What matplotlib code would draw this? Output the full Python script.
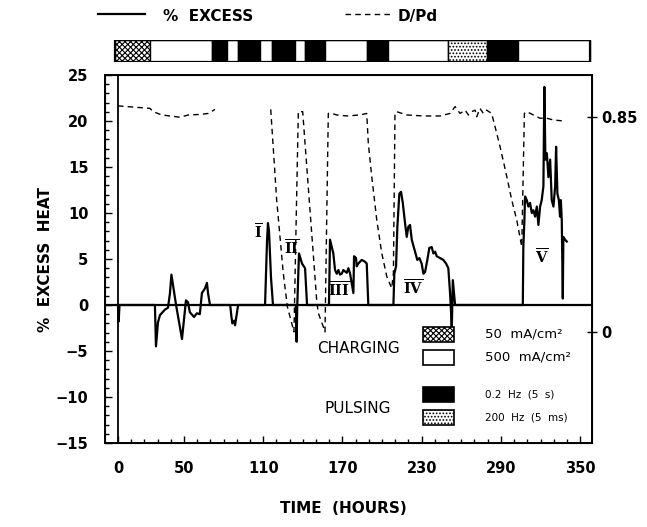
import numpy as np
import matplotlib.pyplot as plt
from matplotlib.patches import Rectangle
from matplotlib.lines import Line2D

plt.rcParams['font.family'] = 'DejaVu Sans'
plt.rcParams['hatch.linewidth'] = 0.8
plt.rcParams['mathtext.fontset'] = 'dejavuserif'

# % excess heat (solid line)
hours = [0, 0.5, 1.2, 28, 28.8, 30.3, 31.8, 35.6, 37.9, 39.4, 40.5, 44, 48.5, 51.5, 53,
         54.5, 57.6, 59.8, 62, 63.6, 65.9, 67.4, 68.2, 69.7, 85, 85.8, 86.6, 88, 88.7,
         90, 91, 111.4, 112.9, 113.6, 114.4, 115.9, 117.4, 134.8, 135.3, 135.8, 137.1,
         139.4, 141.7, 143.2, 159.8, 160.6, 163.1, 164.4, 165.7, 166.9, 168.2, 169.5,
         170.7, 173.3, 174.5, 175.8, 178.3, 178.8, 180.3, 180.8, 182, 184.6, 187.1, 188.4,
         189.6, 208.6, 209.3, 210.6, 211.6, 213.1, 214.4, 215.7, 217.4, 218.7, 219.9,
         221.2, 222.5, 225, 226.7, 228.3, 230, 231.3, 232.6, 234.3, 235.8, 237.6, 238.9,
         240.2, 241.4, 243.9, 246.4, 248.5, 250.2, 251.5, 252.3, 252.8, 253.6, 254.5,
         255.3, 306.6, 307, 307.8, 308.3, 309.6, 310.8, 312.1, 313.4, 314.6, 315.9, 317.2,
         318.4, 319.7, 320.9, 322.2, 322.9, 323.7, 324.8, 326, 327.3, 328.5, 329.8, 331.1,
         331.8, 332.8, 333.9, 334.8, 335.4, 336.1, 336.9, 337.3, 338.6, 339.9]
excess = [0, -1.8, 0, 0, -4.5, -1.9, -1.1, -0.5, -0.3, 1.3, 3.3, 0, -3.7, 0.5, 0.3,
          -0.8, -1.3, -0.9, -1.0, 1.3, 1.8, 2.4, 1.3, 0, 0, -1.1, -2.0, -1.7, -2.2,
          -1.0, 0, 0, 7.0, 8.9, 8.0, 3.0, 0, 0, -4.0, 0, 5.6,
          4.5, 4.0, 0, 0, 7.1, 5.6, 3.8, 3.4, 3.8, 3.3, 3.4,
          3.8, 3.5, 4.0, 3.4, 1.3, 5.3, 5.1, 4.2, 4.5, 4.9, 4.7, 4.5,
          0, 0, 3.4, 4.2, 8.5, 12.1, 12.3, 11.1, 8.9, 7.4, 8.5,
          8.7, 7.1, 5.8, 4.9, 5.1, 4.5, 3.4, 3.6, 4.9, 6.2, 6.3, 5.6,
          5.8, 5.3, 5.1, 4.9, 4.5, 4.0, 1.3, -0.9, -2.7, 2.7, 1.3,
          0, 0, 6.3, 9.2, 11.8, 11.4, 10.7, 11.1, 10.0, 10.3, 9.6, 10.7,
          8.7, 10.7, 11.4, 12.9, 23.7, 15.8, 16.5, 13.9, 15.8, 11.4, 10.7, 12.9,
          17.2, 12.1, 11.4, 9.6, 11.4, 9.2, 0.7, 7.4, 7.1, 6.9]

# D/Pd loading (dashed line, right axis)
dpd_hours = [0, 24.2, 26.7, 33.1, 39.4, 47, 53.3, 62.1, 68.4, 73.5, np.nan,
             115.7, 120.2, 125.2, 128.3, 131.6, 133.3, 136.6, 139.9, 150.5, 151.7,
             155.5, 156.8, 159.3, 161.9, 165.7, 173.3, 183.3, 188.4, 189.6, 192.2,
             196, 199.8, 203.6, 207.3, 208.6, 209.8, 211.1, 218.7, 231.3, 243.9, 251.5,
             255.3, 259.1, 262.9, 265.4, 267.9, 270.5, 271.7, 274.2, 276.7, 279.2, 283,
             285.6, 289.4, 294.5, 298.2, 302, 305.8, 307.8, 309.6, 314.6, 319.7, 324.8,
             329.8, 336.1]
dpd = [0.894, 0.884, 0.871, 0.858, 0.854, 0.849, 0.858, 0.86, 0.864, 0.88, np.nan,
       0.88, 0.522, 0.232, 0.1, 0.034, 0.0, 0.871, 0.871, 0.126, 0.075,
       0.021, 0.0, 0.864, 0.864, 0.858, 0.854, 0.858, 0.864, 0.746, 0.614,
       0.443, 0.311, 0.219, 0.173, 0.232, 0.864, 0.871, 0.858, 0.854, 0.854, 0.864,
       0.891, 0.864, 0.877, 0.858, 0.871, 0.877, 0.851, 0.884, 0.864, 0.877, 0.864,
       0.811, 0.732, 0.614, 0.522, 0.443, 0.337, 0.864, 0.871, 0.858, 0.845, 0.845,
       0.838, 0.835]

# current / pulsing schedule bar
seg_start = [-2.3, 24.2, 71.2, 82.6, 90.9, 107.6, 116.7, 134.1, 141.7, 156.8, 188.6,
             204.5, 250, 279.5, 303]
seg_end = [24.2, 71.2, 82.6, 90.9, 107.6, 116.7, 134.1, 141.7, 156.8, 188.6, 204.5,
           250, 279.5, 303, 357.6]
seg_kind = ['cross', 'white', 'black', 'white', 'black', 'white', 'black', 'white',
            'black', 'white', 'black', 'white', 'dots', 'black', 'white']

xticks = [0, 50, 110, 170, 230, 290, 350]
numerals = ['I', 'II', 'III', 'IV', 'V']
num_x = [106, 131.6, 167.6, 223.7, 320.9]
num_y = [7.9, 6.2, 1.6, 1.8, 5.2]

styles = {'cross': dict(facecolor='white', hatch='xxxxxx'),
          'white': dict(facecolor='white', hatch=None),
          'black': dict(facecolor='black', hatch=None),
          'dots': dict(facecolor='white', hatch='.....')}

fig = plt.figure(figsize=(6.47, 5.27), dpi=100)
ax = fig.add_axes([0.1623, 0.1594, 0.7527, 0.6983])

ax.plot(hours, excess, color='black', lw=1.6, zorder=3)
ax.axhline(0, color='black', lw=1.6)
ax.axvline(0, color='black', lw=1.3)
ax.set_xlim(-9.8, 359)
ax.set_ylim(-15, 25)
ax.set_xticks(xticks)
ax.set_xticks(np.arange(0, 351, 10), minor=True)
ax.set_yticks(np.arange(-15, 26, 5))
ax.set_yticks(np.arange(-15, 26, 1), minor=True)
ax.set_yticklabels([str(v).replace('-', '\u2212') for v in range(-15, 26, 5)])
ax.tick_params(which='both', direction='in', top=False, right=False, width=1)
ax.tick_params(which='major', length=5)
ax.tick_params(which='minor', length=3)
ax.tick_params(axis='x', which='major', pad=13)
ax.tick_params(axis='y', which='major', pad=12)
for lab in ax.get_xticklabels() + ax.get_yticklabels():
    lab.set_fontweight('bold')
    lab.set_fontsize(10.5)
for s in ax.spines.values():
    s.set_linewidth(1.4)

for name, x, y in zip(numerals, num_x, num_y):
    ax.text(x, y, r'$\overline{\mathbf{%s}}$' % name, ha='center', va='center',
            fontsize=10.5)

ax2 = ax.twinx()
ax2.plot(dpd_hours, dpd, color='black', lw=1.0, linestyle=(0, (4, 3)))
ax2.set_ylim(-0.439, 1.016)
ax2.set_yticks([0, 0.85])
ax2.set_yticklabels(['0', '0.85'], fontweight='bold', fontsize=10.5)
ax2.tick_params(direction='inout', length=7, width=1, pad=3)

# in-plot key
key_y = [0.2745, 0.212, 0.111, 0.049]
key_kind = ['cross', 'white', 'black', 'dots']
key_text = ['50  mA/cm\u00b2', '500  mA/cm\u00b2', '0.2  Hz  (5  s)', '200  Hz  (5  ms)']
key_size = [9.5, 9.5, 7.5, 7.5]
for y, k, t, fs in zip(key_y, key_kind, key_text, key_size):
    ax.add_patch(Rectangle((0.653, y), 0.064, 0.041, transform=ax.transAxes,
                           edgecolor='black', lw=1.2, zorder=4, **styles[k]))
    ax.text(0.78, y + 0.0205, t, transform=ax.transAxes, va='center', fontsize=fs)
ax.text(0.521, 0.258, 'CHARGING', transform=ax.transAxes, ha='center', va='center',
        fontsize=11)
ax.text(0.52, 0.095, 'PULSING', transform=ax.transAxes, ha='center', va='center',
        fontsize=11)

# schedule bar above the plot
bar = fig.add_axes([0.1623, 0.8824, 0.7527, 0.0417])
bar.set_xlim(ax.get_xlim())
bar.set_ylim(0, 1)
bar.axis('off')
for a, b, k in zip(seg_start, seg_end, seg_kind):
    bar.add_patch(Rectangle((a, 0), b - a, 1, edgecolor='black', lw=1.0, **styles[k]))
bar.add_patch(Rectangle((seg_start[0], 0), seg_end[-1] - seg_start[0], 1,
                        facecolor='none', edgecolor='black', lw=1.6))

# header legend
fig.add_artist(Line2D([0.1515, 0.224], [0.9734, 0.9734], color='black', lw=1.6))
fig.text(0.252, 0.968, '%  EXCESS', fontsize=11, fontweight='bold', va='center')
fig.add_artist(Line2D([0.533, 0.606], [0.9734, 0.9734], color='black', lw=1.0,
                      linestyle=(0, (4, 3))))
fig.text(0.615, 0.968, 'D/Pd', fontsize=11, fontweight='bold', va='center')

fig.text(0.07, 0.5085, '%  EXCESS  HEAT', rotation=90, fontsize=11, fontweight='bold',
         ha='center', va='center')
fig.text(0.53, 0.036, 'TIME  (HOURS)', fontsize=11, fontweight='bold',
         ha='center', va='center')

fig.savefig('out.png', dpi=100)
